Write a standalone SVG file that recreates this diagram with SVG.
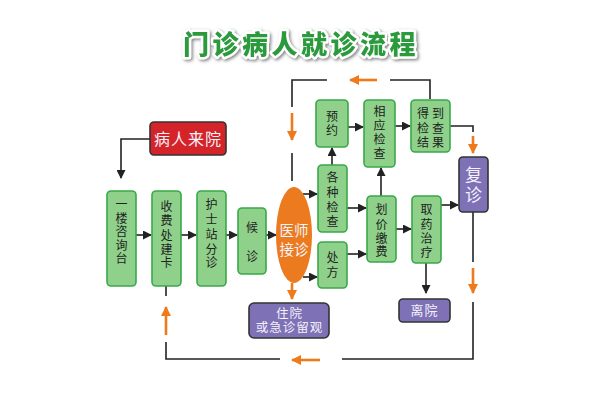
<svg xmlns="http://www.w3.org/2000/svg" width="600" height="400" viewBox="0 0 600 400">
<defs>
<style>
.g{fill:#8fd18a;stroke:#3aa84a;stroke-width:1.6}
.p{fill:#7e71b6;stroke:#333;stroke-width:1.6}
.t{font-family:"Liberation Sans","Noto Sans CJK SC",sans-serif;font-size:12px;fill:#222;text-anchor:middle;dominant-baseline:central}
.w{font-family:"Liberation Sans","Noto Sans CJK SC",sans-serif;fill:#f4f2fa;text-anchor:middle;dominant-baseline:central}
.ln{fill:none;stroke:#222;stroke-width:1.6}
.or{fill:none;stroke:#ee7a1c;stroke-width:2.6}
.title{font-family:"Noto Sans CJK SC",sans-serif;font-weight:900;font-size:26px;text-anchor:middle;letter-spacing:3.5px}
</style>
<marker id="ab" markerUnits="userSpaceOnUse" markerWidth="9" markerHeight="9" refX="8" refY="4.5" orient="auto"><path d="M0,0 L9,4.5 L0,9 z" fill="#222"/></marker>
<marker id="ao" markerUnits="userSpaceOnUse" markerWidth="10" markerHeight="10" refX="9" refY="5" orient="auto"><path d="M0,0 L10,5 L0,10 z" fill="#ee7a1c"/></marker>
<filter id="sh" x="-10%" y="-40%" width="120%" height="180%"><feDropShadow dx="1.5" dy="1.5" stdDeviation="1.5" flood-color="#777" flood-opacity="0.9"/></filter>
</defs>
<rect width="600" height="400" fill="#fff"/>

<g id="title">
<text class="title" x="301" y="54" fill="#2b9a3c" stroke="#fff" stroke-width="5" stroke-linejoin="round" paint-order="stroke" filter="url(#sh)">门诊病人就诊流程</text>
</g>

<g id="connectors">
<path class="ln" d="M150,139 H121 V178" marker-end="url(#ab)"/>
<path class="ln" d="M136,235 H151" marker-end="url(#ab)"/>
<path class="ln" d="M181,235 H196" marker-end="url(#ab)"/>
<path class="ln" d="M226,235 H237" marker-end="url(#ab)"/>
<path class="ln" d="M266,235 H276" marker-end="url(#ab)"/>
<path class="ln" d="M303,194 H317" marker-end="url(#ab)"/>
<path class="ln" d="M303,277 H317" marker-end="url(#ab)"/>
<path class="ln" d="M347,208 H366" marker-end="url(#ab)"/>
<path class="ln" d="M347,254 H366" marker-end="url(#ab)"/>
<path class="ln" d="M396,229 H411" marker-end="url(#ab)"/>
<path class="ln" d="M441,205 H458" marker-end="url(#ab)"/>
<path class="ln" d="M332,165 V148" marker-end="url(#ab)"/>
<path class="ln" d="M381,196 V168" marker-end="url(#ab)"/>
<path class="ln" d="M348,127 H363" marker-end="url(#ab)"/>
<path class="ln" d="M395,126 H410" marker-end="url(#ab)"/>
<path class="ln" d="M426,263 V293" marker-end="url(#ab)"/>
<path class="ln" d="M450,126 H473 V132"/>
<path class="or" d="M473,136 V153" marker-end="url(#ao)"/>
<path class="ln" d="M430,99 V80 H390"/>
<path class="or" d="M377,80 H350" marker-end="url(#ao)"/>
<path class="ln" d="M327,80 H292 V107"/>
<path class="or" d="M292,113 V140" marker-end="url(#ao)"/>
<path class="ln" d="M292,153 V181"/>
<path class="or" d="M292,283 V299" marker-end="url(#ao)"/>
<path class="ln" d="M473,212 V262"/>
<path class="or" d="M473,268 V293" marker-end="url(#ao)"/>
<path class="ln" d="M473,302 V359 H342"/>
<path class="or" d="M320,360 H292" marker-end="url(#ao)"/>
<path class="ln" d="M280,359 H166 V342"/>
<path class="or" d="M166,335 V307" marker-end="url(#ao)"/>
<path class="ln" d="M166,296 V286"/>
</g>

<g id="n-arrive">
<rect x="150" y="122" width="76" height="33" rx="4" fill="#d52429" stroke="#333" stroke-width="1.6"/>
<text class="w" x="188" y="139" style="font-size:16px;letter-spacing:1px" fill="#fff">病人来院</text>
</g>

<g id="n-info">
<rect class="g" x="107" y="191" width="29" height="95" rx="4"/>
<text class="t"><tspan x="121.5" y="205">一</tspan><tspan x="121.5" y="218.5">楼</tspan><tspan x="121.5" y="232">咨</tspan><tspan x="121.5" y="245.5">询</tspan><tspan x="121.5" y="259">台</tspan></text>
</g>

<g id="n-card">
<rect class="g" x="152" y="191" width="29" height="95" rx="4"/>
<text class="t"><tspan x="166.5" y="207">收</tspan><tspan x="166.5" y="221">费</tspan><tspan x="166.5" y="235.5">处</tspan><tspan x="166.5" y="249.5">建</tspan><tspan x="166.5" y="263">卡</tspan></text>
</g>

<g id="n-nurse">
<rect class="g" x="197" y="191" width="29" height="95" rx="4"/>
<text class="t"><tspan x="211.5" y="205">护</tspan><tspan x="211.5" y="220">士</tspan><tspan x="211.5" y="235">站</tspan><tspan x="211.5" y="249.5">分</tspan><tspan x="211.5" y="263">诊</tspan></text>
</g>

<g id="n-wait">
<rect class="g" x="238" y="208" width="28" height="66" rx="4"/>
<text class="t"><tspan x="252" y="228">候</tspan><tspan x="252" y="257">诊</tspan></text>
</g>

<g id="n-doctor">
<ellipse cx="294" cy="235" rx="18" ry="48" fill="#ec7a1e"/>
<text class="w" style="font-size:14.5px" fill="#fff"><tspan x="294" y="231">医师</tspan><tspan x="294" y="250">接诊</tspan></text>
</g>

<g id="n-book">
<rect class="g" x="316" y="100" width="32" height="47" rx="4"/>
<text class="t"><tspan x="332" y="117">预</tspan><tspan x="332" y="131">约</tspan></text>
</g>

<g id="n-exam">
<rect class="g" x="364" y="100" width="31" height="67" rx="4"/>
<text class="t"><tspan x="379.5" y="112">相</tspan><tspan x="379.5" y="126">应</tspan><tspan x="379.5" y="140">检</tspan><tspan x="379.5" y="154">查</tspan></text>
</g>

<g id="n-result">
<rect class="g" x="411" y="100" width="39" height="52" rx="4"/>
<text class="t" style="letter-spacing:3px"><tspan x="432" y="114">得到</tspan><tspan x="432" y="128.5">检查</tspan><tspan x="432" y="143">结果</tspan></text>
</g>

<g id="n-revisit">
<rect class="p" x="459" y="157" width="29" height="55" rx="4"/>
<text class="w" style="font-size:17px"><tspan x="473.5" y="175">复</tspan><tspan x="473.5" y="195">诊</tspan></text>
</g>

<g id="n-checks">
<rect class="g" x="318" y="165" width="29" height="67" rx="4"/>
<text class="t"><tspan x="332.5" y="178">各</tspan><tspan x="332.5" y="193">种</tspan><tspan x="332.5" y="208">检</tspan><tspan x="332.5" y="222">查</tspan></text>
</g>

<g id="n-rx">
<rect class="g" x="318" y="242" width="29" height="46" rx="4"/>
<text class="t"><tspan x="332.5" y="258">处</tspan><tspan x="332.5" y="273">方</tspan></text>
</g>

<g id="n-pay">
<rect class="g" x="367" y="196" width="29" height="66" rx="4"/>
<text class="t"><tspan x="381.5" y="210">划</tspan><tspan x="381.5" y="224.5">价</tspan><tspan x="381.5" y="238.5">缴</tspan><tspan x="381.5" y="252">费</tspan></text>
</g>

<g id="n-drug">
<rect class="g" x="412" y="196" width="29" height="67" rx="4"/>
<text class="t"><tspan x="426.5" y="210">取</tspan><tspan x="426.5" y="224.5">药</tspan><tspan x="426.5" y="239">治</tspan><tspan x="426.5" y="253">疗</tspan></text>
</g>

<g id="n-leave">
<rect class="p" x="399" y="299" width="51" height="23" rx="4"/>
<text class="w" x="424.5" y="310.5" style="font-size:13px;letter-spacing:1px">离院</text>
</g>

<g id="n-hospital">
<rect class="p" x="249" y="303" width="80" height="35" rx="5"/>
<text class="w" style="font-size:12.5px;letter-spacing:1px"><tspan x="289.5" y="313.5">住院</tspan><tspan x="289.5" y="328">或急诊留观</tspan></text>
</g>
</svg>
